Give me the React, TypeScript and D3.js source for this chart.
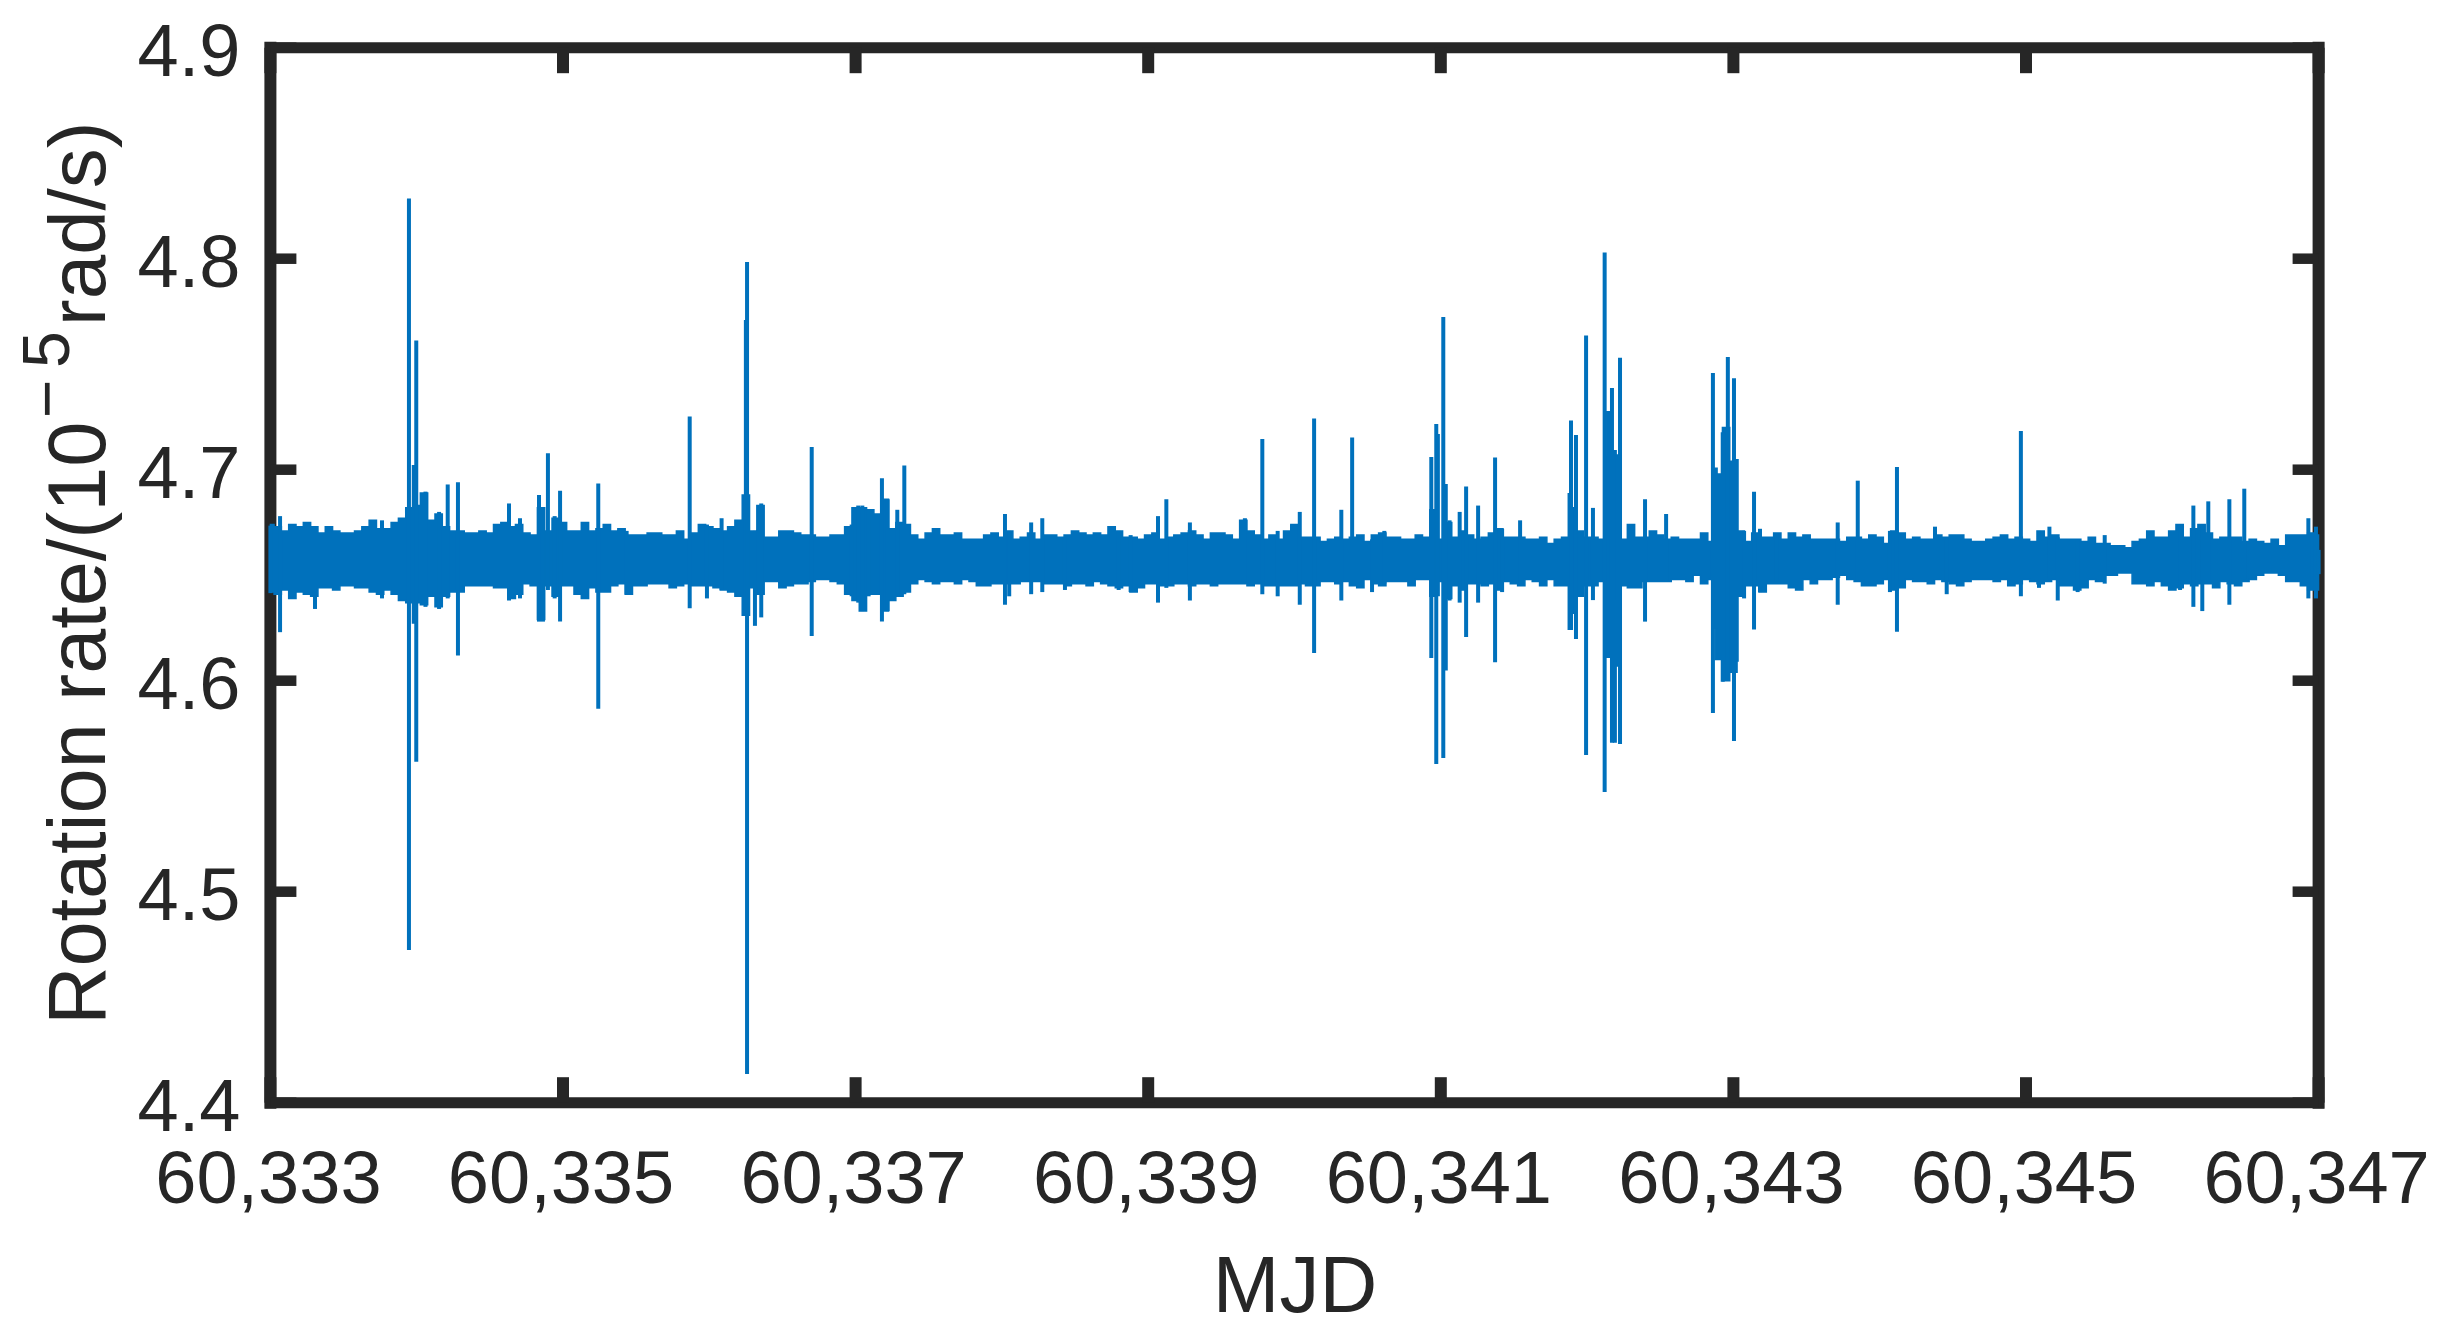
import * as d3 from "d3"
import { useEffect, useRef } from "react"

// Band edges every 0.05 day, spikes on top of them.
const bandStart = 60333
const bandStep = 0.05

const bandUpper = [
  4.674, 4.673, 4.671, 4.674, 4.673, 4.675, 4.673, 4.67, 4.673, 4.671, 4.67, 4.67, 4.671, 4.673, 4.676, 4.672,
  4.672, 4.675, 4.677, 4.682, 4.683, 4.689, 4.676, 4.679, 4.673, 4.671, 4.671, 4.67, 4.67, 4.671, 4.67, 4.674,
  4.675, 4.673, 4.674, 4.67, 4.669, 4.682, 4.671, 4.677, 4.675, 4.671, 4.671, 4.675, 4.671, 4.672, 4.674,
  4.671, 4.672, 4.669, 4.669, 4.669, 4.67, 4.67, 4.669, 4.669, 4.671, 4.667, 4.67, 4.674, 4.673, 4.672, 4.671,
  4.673, 4.676, 4.688, 4.671, 4.683, 4.668, 4.668, 4.671, 4.671, 4.67, 4.669, 4.669, 4.668, 4.668, 4.669, 4.669,
  4.673, 4.682, 4.682, 4.681, 4.679, 4.686, 4.672, 4.675, 4.674, 4.669, 4.667, 4.67, 4.672, 4.669, 4.669,
  4.67, 4.667, 4.667, 4.667, 4.669, 4.67, 4.668, 4.671, 4.667, 4.668, 4.67, 4.667, 4.669, 4.669, 4.668, 4.669,
  4.671, 4.67, 4.669, 4.67, 4.669, 4.673, 4.671, 4.668, 4.668, 4.667, 4.669, 4.67, 4.667, 4.668, 4.669, 4.67,
  4.671, 4.669, 4.667, 4.67, 4.67, 4.669, 4.667, 4.676, 4.671, 4.669, 4.667, 4.669, 4.667, 4.671, 4.674,
  4.668, 4.668, 4.668, 4.666, 4.667, 4.668, 4.667, 4.668, 4.669, 4.666, 4.669, 4.67, 4.668, 4.668, 4.667, 4.667,
  4.669, 4.668, 4.681, 4.667, 4.675, 4.668, 4.671, 4.669, 4.667, 4.668, 4.67, 4.672, 4.668, 4.668, 4.668, 4.667,
  4.667, 4.668, 4.665, 4.667, 4.668, 4.682, 4.671, 4.668, 4.668, 4.667, 4.706, 4.707, 4.667, 4.674, 4.668,
  4.668, 4.671, 4.669, 4.667, 4.668, 4.667, 4.667, 4.667, 4.67, 4.666, 4.698, 4.72, 4.704, 4.671, 4.666, 4.67,
  4.668, 4.668, 4.67, 4.667, 4.67, 4.668, 4.669, 4.667, 4.667, 4.667, 4.667, 4.666, 4.668, 4.668, 4.667, 4.669,
  4.668, 4.665, 4.671, 4.67, 4.667, 4.668, 4.667, 4.667, 4.669, 4.668, 4.669, 4.669, 4.667, 4.666, 4.666, 4.667,
  4.668, 4.669, 4.667, 4.668, 4.667, 4.666, 4.671, 4.668, 4.669, 4.667, 4.667, 4.667, 4.666, 4.668, 4.665, 4.665,
  4.664, 4.664, 4.663, 4.666, 4.667, 4.671, 4.668, 4.668, 4.671, 4.674, 4.668, 4.672, 4.674, 4.67, 4.667, 4.668,
  4.668, 4.668, 4.666, 4.667, 4.666, 4.665, 4.667, 4.664, 4.669, 4.669, 4.669, 4.67, 4.669,
]

const bandLower = [
  4.642, 4.641, 4.643, 4.639, 4.642, 4.641, 4.64, 4.644, 4.644, 4.643, 4.645, 4.645, 4.644, 4.644, 4.642, 4.641,
  4.643, 4.641, 4.638, 4.637, 4.637, 4.636, 4.64, 4.635, 4.64, 4.642, 4.642, 4.645, 4.645, 4.645, 4.645, 4.644,
  4.644, 4.639, 4.641, 4.646, 4.645, 4.629, 4.645, 4.64, 4.645, 4.645, 4.641, 4.639, 4.644, 4.642, 4.642,
  4.645, 4.646, 4.641, 4.645, 4.645, 4.646, 4.646, 4.646, 4.644, 4.645, 4.646, 4.645, 4.645, 4.645, 4.644, 4.643,
  4.642, 4.64, 4.631, 4.644, 4.641, 4.647, 4.647, 4.644, 4.645, 4.646, 4.646, 4.647, 4.648, 4.648, 4.647, 4.646,
  4.641, 4.638, 4.633, 4.641, 4.641, 4.633, 4.638, 4.64, 4.642, 4.646, 4.648, 4.647, 4.646, 4.647, 4.647,
  4.646, 4.648, 4.647, 4.645, 4.645, 4.646, 4.646, 4.646, 4.646, 4.647, 4.647, 4.647, 4.646, 4.646, 4.646, 4.645,
  4.646, 4.646, 4.645, 4.647, 4.646, 4.645, 4.644, 4.645, 4.642, 4.644, 4.646, 4.646, 4.645, 4.645, 4.646, 4.646,
  4.645, 4.646, 4.646, 4.645, 4.646, 4.646, 4.646, 4.646, 4.645, 4.646, 4.645, 4.645, 4.645, 4.645, 4.645,
  4.646, 4.645, 4.645, 4.647, 4.647, 4.646, 4.647, 4.645, 4.644, 4.648, 4.646, 4.645, 4.647, 4.647, 4.647, 4.645,
  4.648, 4.648, 4.64, 4.647, 4.639, 4.645, 4.643, 4.646, 4.646, 4.645, 4.646, 4.643, 4.647, 4.646, 4.645, 4.648,
  4.647, 4.645, 4.648, 4.645, 4.645, 4.632, 4.64, 4.645, 4.645, 4.647, 4.612, 4.607, 4.645, 4.644, 4.644,
  4.647, 4.647, 4.647, 4.647, 4.648, 4.648, 4.647, 4.65, 4.646, 4.648, 4.61, 4.6, 4.604, 4.64, 4.645, 4.645,
  4.642, 4.646, 4.646, 4.646, 4.644, 4.643, 4.648, 4.646, 4.648, 4.648, 4.649, 4.65, 4.648, 4.647, 4.645, 4.645,
  4.646, 4.648, 4.643, 4.644, 4.648, 4.647, 4.647, 4.646, 4.648, 4.647, 4.646, 4.645, 4.647, 4.648, 4.648, 4.648,
  4.647, 4.648, 4.645, 4.646, 4.648, 4.647, 4.646, 4.647, 4.648, 4.645, 4.645, 4.643, 4.644, 4.648, 4.647, 4.65,
  4.65, 4.651, 4.651, 4.646, 4.646, 4.645, 4.647, 4.645, 4.643, 4.644, 4.646, 4.645, 4.646, 4.646, 4.644, 4.647,
  4.646, 4.645, 4.647, 4.648, 4.65, 4.651, 4.651, 4.65, 4.647, 4.647, 4.645, 4.643, 4.643,
]

// [mjd, high, low]
const spikes: [number, number, number][] = [
  [60333, 4.6735, 4.6415], [60333.066, 4.678, 4.623], [60333.305, 4.673, 4.634], [60333.763, 4.676, 4.639],
  [60333.947, 4.8285, 4.4724], [60333.98, 4.7022, 4.627], [60333.997, 4.7612, 4.5616], [60334.06, 4.6896, 4.635],
  [60334.153, 4.68, 4.634], [60334.212, 4.693, 4.639], [60334.282, 4.694, 4.612], [60334.631, 4.684, 4.638],
  [60334.706, 4.677, 4.639], [60334.836, 4.688, 4.628], [60334.863, 4.682, 4.628], [60334.897, 4.7078, 4.643],
  [60334.943, 4.678, 4.639], [60334.98, 4.69, 4.628], [60335.241, 4.6935, 4.5867], [60335.435, 4.671, 4.641],
  [60335.866, 4.7252, 4.6343], [60335.984, 4.674, 4.639], [60336.084, 4.677, 4.643], [60336.25, 4.771, 4.631],
  [60336.258, 4.7984, 4.4136], [60336.312, 4.671, 4.626], [60336.355, 4.684, 4.63], [60336.7, 4.7107, 4.6212],
  [60336.973, 4.674, 4.64], [60337.018, 4.683, 4.637], [60337.046, 4.683, 4.633], [60337.089, 4.681, 4.64],
  [60337.18, 4.696, 4.628], [60337.219, 4.686, 4.633], [60337.285, 4.681, 4.64], [60337.333, 4.702, 4.641],
  [60338.021, 4.679, 4.636], [60338.05, 4.671, 4.64], [60338.2, 4.675, 4.641], [60338.276, 4.677, 4.642],
  [60338.431, 4.668, 4.643], [60338.798, 4.671, 4.643], [60338.88, 4.669, 4.642], [60339.067, 4.678, 4.637],
  [60339.124, 4.686, 4.644], [60339.285, 4.675, 4.638], [60339.661, 4.677, 4.646], [60339.78, 4.7146, 4.641],
  [60339.885, 4.671, 4.64], [60339.983, 4.674, 4.645], [60340.036, 4.68, 4.636], [60340.134, 4.7243, 4.6131],
  [60340.32, 4.681, 4.638], [60340.394, 4.7153, 4.645], [60340.53, 4.667, 4.642], [60340.614, 4.671, 4.646],
  [60340.935, 4.706, 4.6108], [60340.969, 4.7217, 4.5605], [60340.98, 4.7169, 4.64], [60341.017, 4.7724, 4.5634],
  [60341.034, 4.6932, 4.6048], [60341.06, 4.676, 4.638], [60341.129, 4.68, 4.637], [60341.173, 4.692, 4.6207],
  [60341.255, 4.683, 4.637], [60341.371, 4.7058, 4.6087], [60341.419, 4.672, 4.642], [60341.542, 4.676, 4.645],
  [60341.88, 4.689, 4.624], [60341.89, 4.7233, 4.624], [60341.924, 4.7165, 4.6198], [60341.993, 4.7636, 4.5648],
  [60342.04, 4.6819, 4.6382], [60342.12, 4.8029, 4.5472], [60342.143, 4.7278, 4.6108], [60342.17, 4.7387, 4.5706],
  [60342.19, 4.7093, 4.5706], [60342.205, 4.707, 4.6382], [60342.225, 4.753, 4.57], [60342.396, 4.686, 4.628],
  [60342.54, 4.679, 4.647], [60342.86, 4.7458, 4.5847], [60342.88, 4.701, 4.6246], [60342.927, 4.7178, 4.5995],
  [60342.962, 4.7534, 4.6], [60343.004, 4.7434, 4.5714], [60343.023, 4.7051, 4.609], [60343.073, 4.671, 4.639],
  [60343.141, 4.6896, 4.6243], [60343.182, 4.672, 4.642], [60343.296, 4.67, 4.647], [60343.713, 4.675, 4.636],
  [60343.85, 4.6948, 4.647], [60344.07, 4.671, 4.642], [60344.118, 4.7013, 4.6232], [60344.378, 4.673, 4.648],
  [60344.458, 4.668, 4.641], [60344.965, 4.7183, 4.64], [60345.089, 4.671, 4.644], [60345.16, 4.673, 4.648],
  [60345.217, 4.668, 4.638], [60345.353, 4.667, 4.642], [60345.538, 4.669, 4.646], [60346.053, 4.674, 4.643],
  [60346.144, 4.683, 4.635], [60346.205, 4.674, 4.633], [60346.246, 4.685, 4.646], [60346.39, 4.686, 4.636],
  [60346.492, 4.691, 4.648], [60346.93, 4.677, 4.639], [60346.982, 4.673, 4.639], [60347, 4.662, 4.6505],
]

const xTicks = [60333, 60335, 60337, 60339, 60341, 60343, 60345, 60347]
const yTicks = [4.4, 4.5, 4.6, 4.7, 4.8, 4.9]

const WIDTH = 2446
const HEIGHT = 1330
const INK = "#262626"
const BLUE = "#0071BC"
const FONT = "'Liberation Sans', Arial, sans-serif"

export default function App() {
  const svgRef = useRef<SVGSVGElement>(null)

  useEffect(() => {
    if (!svgRef.current) return
    const svg = d3.select(svgRef.current)
    svg.selectAll("*").remove()

    const left = 270.4
    const right = 2318.6
    const top = 47.7
    const bottom = 1102.7

    const x = d3.scaleLinear().domain([60333, 60347]).range([left, right])
    const y = d3.scaleLinear().domain([4.4, 4.9]).range([bottom, top])

    const noLabel = () => ""
    const styleAxis = (g: any, tickWidth: number, domainWidth: number) => {
      g.attr("color", INK).attr("font-family", FONT).attr("font-size", 74)
      g.select(".domain").attr("stroke-width", domainWidth).attr("stroke-linecap", "square")
      g.selectAll(".tick line").attr("stroke-width", tickWidth)
    }

    const bottomAxis = svg
      .append("g")
      .attr("transform", `translate(0,${bottom})`)
      .call(
        d3.axisBottom(x).tickValues(xTicks).tickFormat(d3.format(",") as any).offset(0)
          .tickSizeInner(-25.5).tickSizeOuter(0).tickPadding(47.5),
      )
    styleAxis(bottomAxis, 12, 11)
    bottomAxis.selectAll("text").attr("dx", -2)

    const topAxis = svg
      .append("g")
      .attr("transform", `translate(0,${top})`)
      .call(d3.axisTop(x).tickValues(xTicks).tickFormat(noLabel).offset(0).tickSizeInner(-25.5).tickSizeOuter(0))
    styleAxis(topAxis, 12, 11)

    const leftAxis = svg
      .append("g")
      .attr("transform", `translate(${left},0)`)
      .call(
        d3.axisLeft(y).tickValues(yTicks).tickFormat(d3.format(".1f") as any).offset(0)
          .tickSizeInner(-26).tickSizeOuter(0).tickPadding(30),
      )
    styleAxis(leftAxis, 10.5, 12)
    leftAxis.selectAll("text").attr("dy", "0.38em")

    const rightAxis = svg
      .append("g")
      .attr("transform", `translate(${right},0)`)
      .call(d3.axisRight(y).tickValues(yTicks).tickFormat(noLabel).offset(0).tickSizeInner(-26).tickSizeOuter(0))
    styleAxis(rightAxis, 10.5, 12)

    // the record itself sits on top of the frame
    const bandMjd = bandUpper.map((_, i) => bandStart + i * bandStep)
    const band = d3
      .area<number>()
      .x((d) => x(d))
      .y0((_, i) => y(bandLower[i]))
      .y1((_, i) => y(bandUpper[i]))
      .curve(d3.curveStep)

    svg.append("path").attr("d", band(bandMjd)).attr("fill", BLUE).attr("stroke", BLUE).attr("stroke-width", 1.5)

    svg
      .append("g")
      .selectAll("line")
      .data(spikes)
      .enter()
      .append("line")
      .attr("x1", (d) => x(d[0]))
      .attr("x2", (d) => x(d[0]))
      .attr("y1", (d) => y(d[1]))
      .attr("y2", (d) => y(d[2]))
      .attr("stroke", BLUE)
      .attr("stroke-width", 4)

    // y label is pieced together so the exponent lands where the original has it
    const ylabel = [
      { text: "Rotation rate/(10", at: 1025, base: 105, size: 81 },
      { text: "\u2212", at: 418, base: 68.6, size: 66 },
      { text: "5", at: 368, base: 68.6, size: 66 },
      { text: "rad/s)", at: 326, base: 105, size: 80 },
    ]
    svg
      .append("g")
      .selectAll("text")
      .data(ylabel)
      .enter()
      .append("text")
      .attr("transform", (d) => `translate(${d.base},${d.at}) rotate(-90)`)
      .attr("font-family", FONT)
      .attr("font-size", (d) => d.size)
      .attr("fill", INK)
      .text((d) => d.text)

    svg
      .append("text")
      .attr("x", 1295)
      .attr("y", 1312)
      .attr("text-anchor", "middle")
      .attr("font-family", FONT)
      .attr("font-size", 80)
      .attr("fill", INK)
      .text("MJD")
  }, [])

  return (
    <svg
      ref={svgRef}
      width={WIDTH}
      height={HEIGHT}
      viewBox={`0 0 ${WIDTH} ${HEIGHT}`}
      style={{ position: "absolute", left: 0, top: 0, display: "block", background: "#fff" }}
    />
  )
}
